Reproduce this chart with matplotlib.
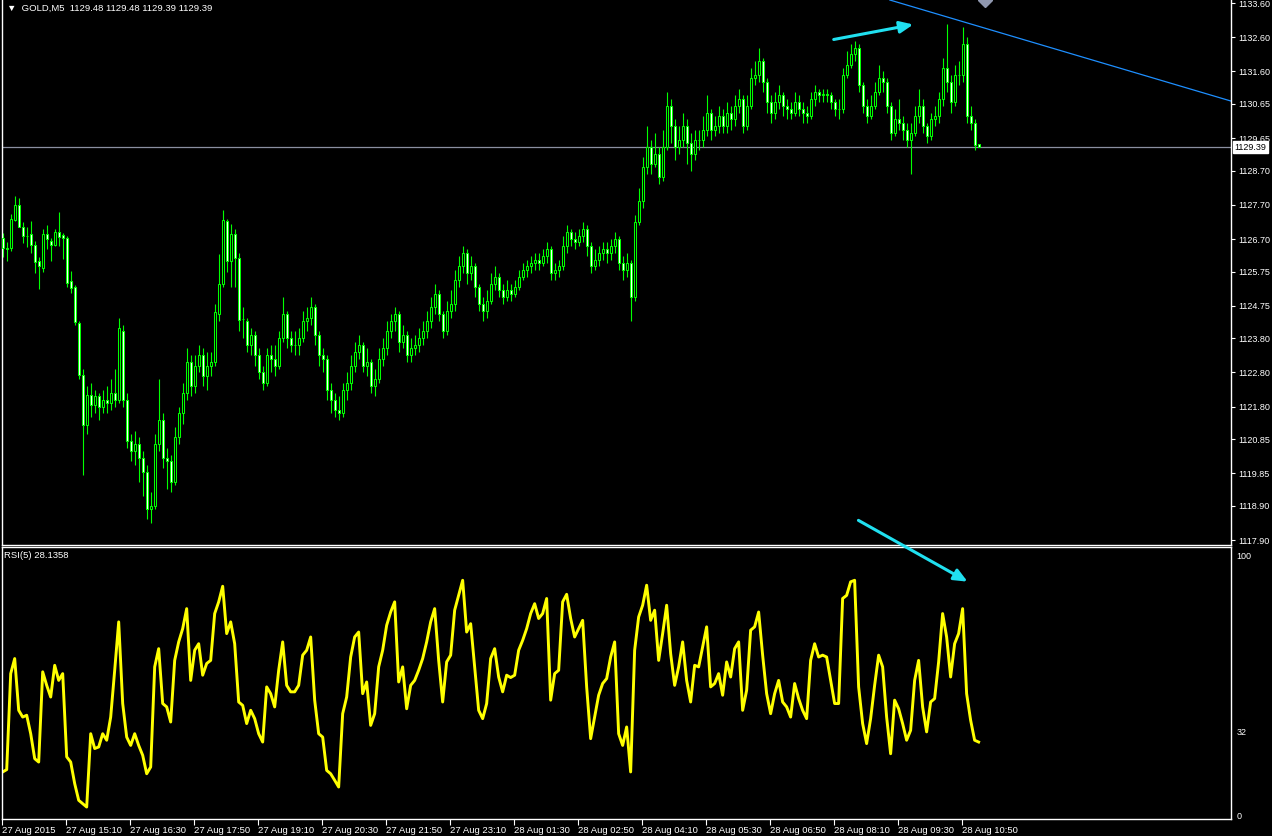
import numpy as np
import matplotlib
matplotlib.use("Agg")
import matplotlib.pyplot as plt
from matplotlib.patches import FancyArrowPatch

plt.rcParams["font.family"] = ["Liberation Sans", "DejaVu Sans"]

# --- data (GOLD, M5) ---
opens = [1126.73,1126.44,1126.44,1127.26,1127.70,1127.05,1126.79,1126.85,1126.53,1126.06,
 1125.85,1126.85,1126.64,1126.53,1126.91,1126.82,1126.73,1125.47,1125.30,1124.25,
 1122.73,1121.26,1122.14,1121.85,1122.10,1121.80,1122.00,1121.90,1122.20,1122.00,
 1124.00,1122.00,1120.80,1120.50,1120.70,1120.30,1119.90,1118.80,1118.90,1120.70,
 1121.40,1120.30,1120.20,1119.60,1120.90,1121.60,1122.20,1123.10,1122.40,1123.00,
 1123.30,1122.70,1123.00,1123.10,1124.50,1125.40,1127.23,1126.06,1126.85,1126.15,
 1124.36,1124.30,1123.60,1123.90,1123.30,1122.80,1122.50,1123.30,1123.20,1123.00,
 1123.80,1124.50,1123.80,1123.60,1123.60,1123.80,1124.30,1124.40,1124.70,1123.90,
 1123.30,1123.20,1122.30,1122.00,1121.70,1121.60,1122.30,1122.50,1123.00,1123.40,
 1123.60,1123.00,1123.10,1122.40,1122.60,1123.20,1123.50,1124.00,1124.30,1124.50,
 1123.70,1123.90,1123.30,1123.50,1123.60,1123.80,1124.00,1124.30,1124.70,1125.10,
 1124.50,1124.00,1124.60,1124.80,1125.50,1125.90,1126.30,1125.70,1125.90,1125.30,
 1124.80,1124.60,1124.90,1125.40,1125.60,1125.20,1125.00,1125.20,1125.10,1125.30,
 1125.60,1125.80,1125.90,1126.00,1126.10,1126.00,1126.20,1126.40,1125.70,1125.80,
 1125.90,1126.50,1126.90,1126.70,1126.60,1126.80,1127.00,1126.50,1125.90,1126.10,
 1126.30,1126.40,1126.30,1126.50,1126.70,1126.00,1125.80,1126.00,1125.00,1127.20,
 1127.80,1128.80,1129.40,1128.90,1129.20,1128.50,1129.40,1130.60,1130.00,1129.40,
 1129.60,1130.00,1129.50,1129.20,1129.60,1129.60,1129.90,1130.40,1129.90,1130.00,
 1130.30,1130.00,1130.40,1130.20,1130.60,1130.80,1130.00,1130.60,1131.40,1131.50,
 1131.90,1131.30,1130.70,1130.40,1130.70,1130.90,1130.60,1130.50,1130.40,1130.70,
 1130.50,1130.40,1130.30,1130.80,1131.00,1130.90,1130.95,1130.90,1130.70,1130.50,
 1130.50,1131.50,1131.80,1132.10,1132.30,1131.20,1130.60,1130.30,1130.60,1131.00,
 1131.40,1131.30,1130.60,1129.80,1130.20,1130.10,1129.90,1129.60,1129.80,1130.30,
 1130.60,1130.00,1129.70,1130.20,1130.30,1130.80,1131.70,1131.30,1130.70,1131.50,
 1131.50,1132.40,1130.30,1130.10,1129.48]

closes = [1126.44,1126.40,1127.29,1127.70,1127.05,1126.79,1126.79,1126.53,1126.03,1125.91,
 1126.85,1126.70,1126.53,1126.91,1126.76,1126.73,1125.41,1125.27,1124.28,1122.73,
 1121.26,1122.14,1121.85,1122.10,1121.80,1122.00,1121.90,1122.20,1122.00,1124.10,
 1122.00,1120.80,1120.50,1120.70,1120.30,1119.90,1118.80,1118.90,1120.70,1121.40,
 1120.30,1120.20,1119.60,1120.90,1121.60,1122.20,1123.10,1122.40,1123.00,1123.30,
 1122.70,1123.00,1123.10,1124.57,1125.40,1127.26,1126.06,1126.85,1126.15,1124.33,
 1124.36,1123.60,1123.90,1123.30,1122.80,1122.50,1123.30,1123.20,1123.00,1123.80,
 1124.50,1123.80,1123.60,1123.60,1123.80,1124.30,1124.40,1124.70,1123.90,1123.30,
 1123.20,1122.30,1122.00,1121.70,1121.60,1122.30,1122.50,1123.00,1123.40,1123.60,
 1123.00,1123.10,1122.40,1122.60,1123.20,1123.50,1124.00,1124.30,1124.50,1123.70,
 1123.90,1123.30,1123.50,1123.60,1123.80,1124.00,1124.30,1124.70,1125.10,1124.50,
 1124.00,1124.60,1124.80,1125.50,1125.90,1126.30,1125.70,1125.90,1125.30,1124.80,
 1124.60,1124.90,1125.40,1125.60,1125.20,1125.00,1125.20,1125.10,1125.30,1125.60,
 1125.80,1125.90,1126.00,1126.10,1126.00,1126.20,1126.40,1125.70,1125.80,1125.90,
 1126.50,1126.90,1126.70,1126.60,1126.80,1127.00,1126.50,1125.90,1126.10,1126.30,
 1126.40,1126.30,1126.50,1126.70,1126.00,1125.80,1126.00,1125.00,1127.20,1127.80,
 1128.80,1129.40,1128.90,1129.20,1128.50,1129.40,1130.60,1130.00,1129.40,1129.60,
 1130.00,1129.50,1129.20,1129.60,1129.60,1129.90,1130.40,1129.90,1130.00,1130.30,
 1130.00,1130.40,1130.20,1130.60,1130.80,1130.00,1130.60,1131.40,1131.50,1131.90,
 1131.30,1130.70,1130.40,1130.70,1130.90,1130.60,1130.50,1130.40,1130.70,1130.50,
 1130.40,1130.30,1130.80,1131.00,1130.90,1130.95,1130.90,1130.70,1130.50,1130.50,
 1131.50,1131.80,1132.10,1132.30,1131.20,1130.60,1130.30,1130.60,1131.00,1131.40,
 1131.30,1130.60,1129.80,1130.20,1130.10,1129.90,1129.60,1129.80,1130.30,1130.60,
 1130.00,1129.70,1130.20,1130.30,1130.80,1131.70,1131.30,1130.70,1131.50,1131.50,
 1132.40,1130.30,1130.10,1129.45,1129.39]

highs = [1126.88,1126.61,1127.43,1127.96,1127.90,1127.20,1127.05,1127.23,1126.64,1126.17,
 1126.99,1127.11,1126.73,1126.99,1127.49,1126.88,1126.79,1125.76,1125.35,1124.30,
 1122.90,1122.40,1122.50,1122.30,1122.20,1122.30,1122.40,1122.60,1122.90,1124.40,
 1124.20,1122.20,1121.00,1121.10,1120.90,1120.50,1120.10,1119.30,1121.00,1122.60,
 1121.60,1120.60,1120.40,1121.20,1121.80,1122.50,1123.50,1123.30,1123.30,1123.60,
 1123.50,1123.40,1123.40,1124.80,1126.26,1127.55,1127.30,1127.14,1127.00,1126.30,
 1124.71,1124.40,1124.10,1124.00,1123.50,1123.00,1123.50,1123.60,1123.60,1124.00,
 1125.00,1124.60,1124.00,1124.00,1124.10,1124.60,1124.70,1125.00,1124.80,1124.00,
 1123.50,1123.30,1122.50,1122.20,1122.10,1122.50,1122.80,1123.30,1123.70,1123.90,
 1123.70,1123.50,1123.20,1122.90,1123.50,1123.80,1124.30,1124.50,1124.70,1124.60,
 1124.20,1124.00,1123.80,1123.90,1124.10,1124.30,1124.60,1125.00,1125.40,1125.20,
 1124.60,1124.90,1125.20,1125.80,1126.20,1126.50,1126.40,1126.20,1126.00,1125.40,
 1125.00,1125.20,1125.70,1125.90,1125.70,1125.40,1125.50,1125.40,1125.50,1125.80,
 1126.00,1126.10,1126.20,1126.30,1126.30,1126.40,1126.60,1126.50,1126.00,1126.10,
 1126.80,1127.10,1127.00,1126.90,1127.00,1127.20,1127.10,1126.60,1126.40,1126.50,
 1126.60,1126.60,1126.70,1126.90,1126.80,1126.20,1126.30,1126.10,1127.40,1128.20,
 1129.10,1130.00,1129.60,1129.80,1129.40,1129.90,1131.00,1130.80,1130.20,1130.00,
 1130.40,1130.20,1129.80,1129.90,1129.90,1130.30,1130.90,1130.50,1130.30,1130.60,
 1130.50,1130.70,1130.60,1130.90,1131.10,1130.90,1130.90,1131.70,1131.90,1132.30,
 1132.00,1131.40,1130.90,1131.00,1131.20,1131.00,1130.80,1130.70,1131.00,1130.90,
 1130.70,1130.60,1131.00,1131.20,1131.10,1131.10,1131.10,1131.00,1130.80,1130.80,
 1131.70,1132.20,1132.40,1132.50,1132.40,1131.30,1130.80,1130.90,1131.30,1131.80,
 1131.60,1131.40,1130.70,1130.50,1130.80,1130.30,1130.10,1130.10,1130.60,1131.10,
 1130.80,1130.10,1130.40,1130.60,1131.00,1132.00,1133.00,1131.50,1131.80,1131.90,
 1132.90,1132.60,1130.60,1130.20,1129.48]

lows = [1126.17,1126.06,1126.35,1127.23,1127.05,1126.58,1126.47,1126.29,1125.71,1125.24,
 1125.74,1126.41,1126.06,1126.50,1126.50,1126.12,1125.30,1125.12,1124.20,1122.60,
 1119.80,1121.00,1121.50,1121.60,1121.40,1121.60,1121.60,1121.70,1121.80,1121.90,
 1121.80,1120.60,1120.20,1120.10,1119.60,1119.20,1118.50,1118.40,1118.80,1120.50,
 1120.00,1119.40,1119.30,1119.50,1120.70,1121.30,1122.00,1122.10,1122.20,1122.80,
 1122.40,1122.30,1122.70,1123.00,1124.30,1125.30,1125.74,1125.30,1125.30,1124.00,
 1123.80,1123.40,1123.30,1123.00,1122.60,1122.30,1122.40,1122.80,1122.70,1122.90,
 1123.70,1123.50,1123.40,1123.30,1123.30,1123.70,1124.00,1124.20,1123.60,1123.00,
 1122.80,1122.00,1121.60,1121.50,1121.40,1121.50,1122.00,1122.30,1122.80,1123.20,
 1122.80,1122.70,1122.20,1122.10,1122.50,1123.00,1123.30,1123.80,1124.00,1123.40,
 1123.50,1123.10,1123.10,1123.30,1123.40,1123.60,1123.80,1124.10,1124.50,1124.30,
 1123.80,1123.90,1124.40,1124.60,1125.30,1125.70,1125.40,1125.50,1125.00,1124.60,
 1124.30,1124.40,1124.80,1125.20,1125.00,1124.80,1124.90,1124.90,1125.00,1125.20,
 1125.50,1125.60,1125.70,1125.80,1125.80,1125.90,1126.00,1125.50,1125.50,1125.60,
 1125.80,1126.30,1126.50,1126.40,1126.50,1126.60,1126.20,1125.70,1125.80,1125.90,
 1126.10,1126.00,1126.10,1126.30,1125.80,1125.50,1125.60,1124.30,1124.90,1127.10,
 1127.60,1128.60,1128.60,1128.80,1128.30,1128.40,1129.30,1129.50,1129.00,1129.20,
 1129.40,1128.90,1128.70,1129.00,1129.30,1129.40,1129.70,1129.60,1129.70,1129.80,
 1129.80,1129.80,1129.90,1130.00,1130.40,1129.80,1129.90,1130.50,1131.20,1131.30,
 1131.00,1130.40,1130.10,1130.20,1130.50,1130.30,1130.20,1130.20,1130.30,1130.30,
 1130.10,1130.10,1130.20,1130.60,1130.70,1130.70,1130.70,1130.50,1130.30,1130.20,
 1130.40,1131.40,1131.70,1131.90,1131.00,1130.40,1130.10,1130.20,1130.50,1130.90,
 1131.00,1130.40,1129.60,1129.70,1129.90,1129.60,1129.40,1128.60,1129.70,1130.10,
 1129.80,1129.50,1129.60,1130.00,1130.10,1130.60,1131.00,1130.40,1130.60,1131.20,
 1131.30,1130.10,1129.90,1129.30,1129.39]

rsi = [16.6,17.5,54.4,60.2,40.3,37.7,38.4,31.3,21.7,20.4,
 55.1,49.9,45.4,57.6,51.8,54.4,22.4,20.4,12.1,5.7,
 4.4,3.1,31.3,25.6,26.2,31.3,28.8,37.7,55.7,74.3,
 42.9,30.0,26.8,31.3,26.8,23.0,15.9,18.5,57.0,64.0,
 42.9,41.6,35.8,59.5,66.6,71.7,79.4,51.8,63.4,65.9,
 53.8,58.3,59.5,77.5,82.0,88.0,69.8,74.3,65.9,43.5,
 42.2,35.2,40.3,37.1,31.3,28.1,49.3,46.7,41.6,55.7,
 66.6,49.9,47.4,47.4,49.9,61.5,63.4,68.5,44.2,31.3,
 30.0,17.2,15.9,13.4,10.8,39.0,45.4,60.8,68.5,70.4,
 46.7,51.2,34.5,39.0,57.0,63.4,73.0,78.1,82.0,51.2,
 57.0,40.9,49.9,51.8,55.7,60.2,66.6,74.3,79.4,59.5,
 43.5,58.9,61.5,78.8,84.5,90.3,70.4,73.6,57.0,40.3,
 37.1,42.9,60.2,64.0,53.1,47.4,53.8,52.9,53.8,63.4,
 67.2,71.7,77.5,81.3,75.6,77.5,83.3,44.2,54.4,55.7,
 82.0,84.9,75.6,68.5,71.7,74.9,49.3,29.4,37.7,46.1,
 50.6,52.5,60.8,66.6,31.3,26.8,33.9,16.6,63.4,76.2,
 80.7,88.4,74.9,78.8,59.5,69.8,80.7,62.1,49.9,57.0,
 66.6,51.8,43.5,57.6,57.0,64.7,72.4,49.3,50.6,54.4,
 46.1,58.9,53.1,64.0,66.6,40.3,48.0,71.1,72.4,78.1,
 61.5,46.7,39.0,46.7,51.8,43.5,41.6,37.7,50.6,44.8,
 40.3,37.1,59.5,65.9,60.8,61.5,60.8,51.8,42.9,42.9,
 83.3,84.5,89.7,90.3,49.3,35.2,27.5,37.1,49.9,61.5,
 57.0,37.7,23.6,44.2,40.9,35.2,28.8,32.6,51.8,59.5,
 41.6,32.0,43.5,44.8,58.9,77.5,68.5,53.1,65.9,69.8,
 79.4,46.7,36.5,28.8,28.1]

price_ticks = [1133.60, 1132.60, 1131.60, 1130.65, 1129.65, 1128.70, 1127.70, 1126.70,
               1125.75, 1124.75, 1123.80, 1122.80, 1121.80, 1120.85, 1119.85, 1118.90, 1117.90]
time_labels = ["27 Aug 2015", "27 Aug 15:10", "27 Aug 16:30", "27 Aug 17:50", "27 Aug 19:10",
               "27 Aug 20:30", "27 Aug 21:50", "27 Aug 23:10", "28 Aug 01:30", "28 Aug 02:50",
               "28 Aug 04:10", "28 Aug 05:30", "28 Aug 06:50", "28 Aug 08:10", "28 Aug 09:30",
               "28 Aug 10:50"]
last_price = 1129.39

W, H = 1272, 836
fig = plt.figure(figsize=(W / 100, H / 100), dpi=100, facecolor="black")

def px_axes(x0, y0, x1, y1):
    return fig.add_axes([x0 / W, 1 - y1 / H, (x1 - x0) / W, (y1 - y0) / H], facecolor="black")

ax = px_axes(2, 0, 1231, 545)
ax2 = px_axes(2, 547, 1231, 819)

n = len(closes)
x = np.arange(n)
o = np.array(opens)
c = np.array(closes)
green = "#00ff00"
fs = 6.8     # time axis / title text
fs_price = 6.5

# candles
ax.vlines(x, lows, highs, color=green, lw=0.8, zorder=2)
fills = ["black" if cc > oo else "white" for oo, cc in zip(o, c)]
ax.bar(x, c - o, bottom=o, width=0.5, color=fills, edgecolor=green, linewidth=0.75, zorder=3)

ax.set_xlim(-0.175, 307.1)
ax.set_ylim(1133.69 - 545 / 34.2, 1133.69)

# bid line and trendline
ax.axhline(last_price, color="#8a8fa0", lw=0.9, zorder=1)
ax.plot([221.8, 310], [1133.69, 1133.69 - (310 - 221.8) * 4 * 101 / 341 / 34.2],
        color="#1e8fff", lw=0.9, zorder=1)
ax.plot([245.6], [1133.69], marker="D", ms=7, color="#9098b0", clip_on=True)

ax.yaxis.tick_right()
ax.set_yticks(price_ticks)
ax.set_yticklabels([f"{t:.2f}" for t in price_ticks])
ax.tick_params(axis="y", colors="white", labelcolor="white", labelsize=fs_price,
               length=3, width=0.8, pad=2, direction="out")
ax.set_xticks([])
for s in ["left", "right", "bottom"]:
    ax.spines[s].set_color("white")
    ax.spines[s].set_linewidth(1)
ax.spines["top"].set_visible(False)

ax.text(1.003, last_price, f"{last_price:.2f}", transform=ax.get_yaxis_transform(),
        fontsize=fs_price, color="black", va="center", ha="left",
        bbox=dict(boxstyle="square,pad=0.15", fc="white", ec="white"))

ax.text(0.004, 0.993, "\u25bc  GOLD,M5  1129.48 1129.48 1129.39 1129.39", transform=ax.transAxes,
        fontsize=fs, color="white", va="top", ha="left")

# RSI panel
ax2.plot(x, rsi, color="#ffff00", lw=2.1)
ax2.set_xlim(-0.175, 307.1)
ax2.set_ylim(-1.5, 103.1)
ax2.yaxis.tick_right()
ax2.set_yticks([100, 32, 0])
ax2.set_yticklabels(["100", "32", "0"])
ax2.tick_params(axis="y", length=0, pad=4, labelcolor="white", labelsize=fs_price)
ax2.set_xticks(np.arange(0, 241, 16) - 0.175)
ax2.set_xticklabels(time_labels)
ax2.tick_params(axis="x", colors="white", labelcolor="white", labelsize=fs,
                length=4, width=0.8, pad=1, direction="out")
for lab in ax2.get_xticklabels():
    lab.set_horizontalalignment("left")
for s in ax2.spines.values():
    s.set_color("white")
    s.set_linewidth(1)
ax2.text(0.002, 0.985, "RSI(5) 28.1358", transform=ax2.transAxes,
         fontsize=fs, color="white", va="top", ha="left")

# cyan arrows
def fig_arrow(x0, y0, x1, y1):
    a = FancyArrowPatch((x0 / W, 1 - y0 / H), (x1 / W, 1 - y1 / H), transform=fig.transFigure,
                        arrowstyle="-|>,head_length=8,head_width=3.5", color="#20e0f0",
                        lw=2.2, mutation_scale=1)
    fig.add_artist(a)

fig_arrow(831, 40, 916, 24)
fig_arrow(856, 519, 970, 583)

fig.savefig("out.png", dpi=100, facecolor="black")
